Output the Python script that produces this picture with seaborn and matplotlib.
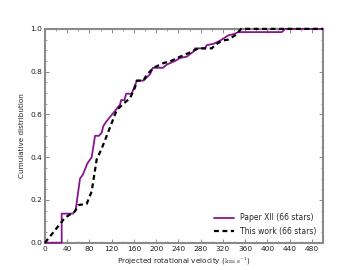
import matplotlib
matplotlib.use("Agg")
import matplotlib.pyplot as plt
import seaborn as sns
import pandas as pd
from matplotlib.ticker import MultipleLocator

# Paper XII (66 stars) - cumulative curve knots
paper_v = [0, 30, 30, 50, 55, 63, 68, 76, 84, 90, 97, 102, 105, 111, 123, 135, 137,
           143, 146, 156, 164, 166, 177, 189, 194, 212, 219, 225, 234, 243, 255, 267,
           270, 288, 291, 303, 315, 330, 339, 348, 426, 432, 500]
paper_f = [0, 0, 0.136, 0.136, 0.15, 0.30, 0.318, 0.37, 0.40, 0.5, 0.5, 0.515, 0.546,
           0.569, 0.607, 0.646, 0.667, 0.667, 0.697, 0.697, 0.75, 0.758, 0.758, 0.788,
           0.818, 0.818, 0.833, 0.84, 0.85, 0.864, 0.87, 0.894, 0.909, 0.909, 0.924,
           0.93, 0.945, 0.97, 0.975, 0.985, 0.985, 1.0, 1.0]

# This work (66 stars)
this_v = [0, 36, 54, 60, 75, 84, 93, 102, 117, 129, 141, 153, 162, 165, 177, 183, 195,
          213, 225, 243, 261, 276, 300, 306, 318, 330, 342, 353, 500]
this_f = [0, 0.117, 0.147, 0.176, 0.182, 0.24, 0.39, 0.44, 0.54, 0.62, 0.65, 0.676,
          0.727, 0.758, 0.758, 0.785, 0.818, 0.84, 0.848, 0.87, 0.89, 0.909, 0.909,
          0.924, 0.945, 0.95, 0.97, 1.0, 1.0]

labels = ["Paper XII (66 stars)", "This work (66 stars)"]
x_ticks = list(range(0, 481, 40))
y_ticks = [0.0, 0.2, 0.4, 0.6, 0.8, 1.0]

sns.set_style("ticks")
plt.rcParams["font.family"] = ["DejaVu Sans"]
plt.rcParams["mathtext.fontset"] = "cm"

fig = plt.figure(figsize=(3.6, 2.7), dpi=100)
ax = fig.add_axes([0.125, 0.101, 0.772, 0.792])

df1 = pd.DataFrame({"v": paper_v, "f": paper_f})
df2 = pd.DataFrame({"v": this_v, "f": this_f})
sns.lineplot(data=df1, x="v", y="f", ax=ax, sort=False, estimator=None,
             color="#87168f", lw=1.3, label=labels[0])
sns.lineplot(data=df2, x="v", y="f", ax=ax, sort=False, estimator=None,
             color="black", lw=1.6, label=labels[1])
ax.lines[1].set_dashes([2.2, 1.6])
for ln in ax.lines:
    ln.set_clip_on(False)
    ln.set_zorder(3)

ax.set_xlim(0, 500)
ax.set_ylim(0, 1.0)
ax.set_xticks(x_ticks)
ax.set_xticklabels([str(t) for t in x_ticks])
ax.set_yticks(y_ticks)
ax.set_yticklabels([f"{t:.1f}" for t in y_ticks])
ax.xaxis.set_minor_locator(MultipleLocator(20))
ax.yaxis.set_minor_locator(MultipleLocator(0.05))
for s in ax.spines.values():
    s.set_visible(True)
    s.set_color("#8a8a8a")
    s.set_linewidth(1.5)
    s.set_zorder(2)
ax.tick_params(which="both", direction="in", top=True, right=True, color="#777777",
               labelsize=5.4, labelcolor="#222222", pad=2)
ax.tick_params(which="major", length=3, width=0.6)
ax.tick_params(which="minor", length=1.5, width=0.5)

ax.set_xlabel(r"Projected rotational velocity ($\mathrm{km\ s^{-1}}$)", fontsize=5.2,
              color="#222222", labelpad=3)
ax.set_ylabel("Cumulative distribution", fontsize=5.2, color="#222222", labelpad=4)

leg = ax.legend(loc="lower right", frameon=False, fontsize=5.5, handlelength=2.6,
                handletextpad=0.8, borderaxespad=0.5, labelspacing=0.6)

fig.savefig("out.png", dpi=100)
